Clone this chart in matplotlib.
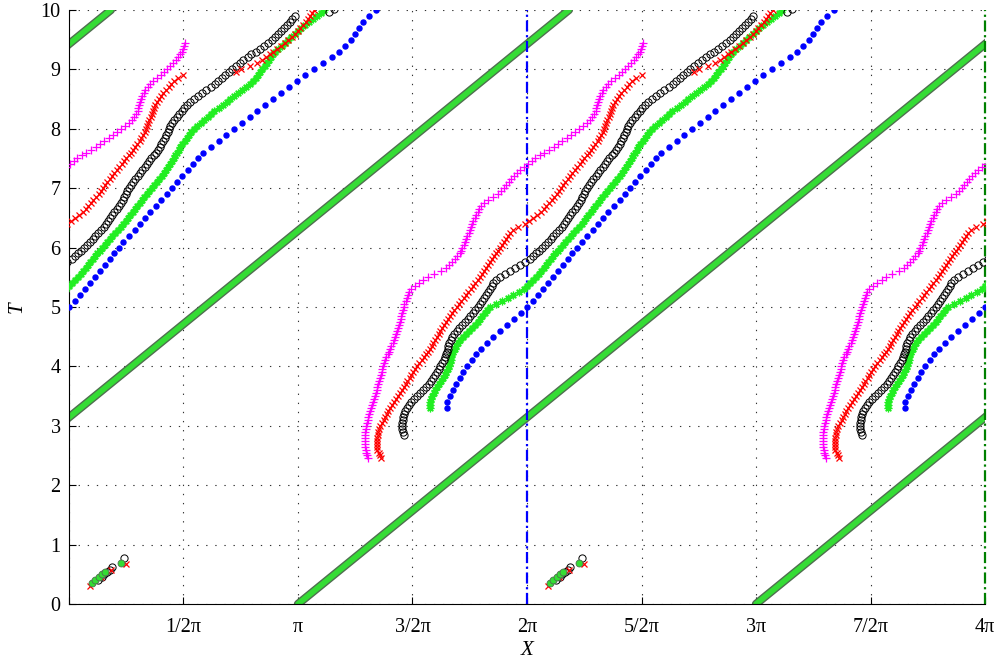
import matplotlib
matplotlib.use('Agg')
import matplotlib.pyplot as plt
import numpy as np

plt.rcParams['font.family'] = ['Liberation Serif', 'DejaVu Serif']

PI = np.pi

# x positions of the tracked points (units of pi), one every dt in T
magenta_t0, magenta_dt = 2.45, 0.05
magenta_x = [1.306, 1.300, 1.297, 1.295, 1.293, 1.292, 1.292, 1.292, 1.293, 1.294,
             1.296, 1.298, 1.301, 1.304, 1.307, 1.311, 1.315, 1.319, 1.323, 1.327,
             1.331, 1.335, 1.339, 1.343, 1.346, 1.350, 1.354, 1.358, 1.362, 1.366,
             1.369, 1.372, 1.376, 1.381, 1.386, 1.392, 1.397, 1.403, 1.408, 1.413,
             1.418, 1.422, 1.427, 1.431, 1.436, 1.440, 1.444, 1.448, 1.451, 1.454,
             1.457, 1.461, 1.465, 1.470, 1.475, 1.480, 1.486, 1.495, 1.510, 1.530,
             1.548, 1.568, 1.595, 1.625, 1.645, 1.660, 1.673, 1.685, 1.696, 1.706,
             1.712, 1.718, 1.724, 1.729, 1.735, 1.740, 1.745, 1.750, 1.754, 1.759,
             1.765, 1.772, 1.778, 1.785, 1.792, 1.800, 1.813, 1.830, 1.851, 1.872,
             1.887, 1.900, 1.910, 1.920, 1.931, 1.942, 1.956, 1.970, 1.986, 2.003,
             2.020, 2.037, 2.056, 2.075, 2.097, 2.118, 2.137, 2.155, 2.174, 2.192,
             2.210, 2.228, 2.246, 2.262, 2.275, 2.285, 2.293, 2.300, 2.303, 2.306,
             2.310, 2.315, 2.320, 2.326, 2.334, 2.343, 2.355, 2.368, 2.384, 2.400,
             2.415, 2.430, 2.443, 2.456, 2.467, 2.478, 2.486, 2.494, 2.499, 2.504,
             2.507]

red_t0, red_dt = 2.45, 0.05
red_x = [1.364, 1.360, 1.353, 1.347, 1.345, 1.345, 1.346, 1.347, 1.348, 1.350,
         1.354, 1.360, 1.367, 1.374, 1.380, 1.387, 1.394, 1.402, 1.410, 1.419,
         1.427, 1.436, 1.444, 1.453, 1.461, 1.470, 1.478, 1.487, 1.495, 1.504,
         1.512, 1.521, 1.530, 1.540, 1.549, 1.558, 1.566, 1.575, 1.583, 1.591,
         1.599, 1.607, 1.614, 1.622, 1.630, 1.638, 1.646, 1.655, 1.664, 1.674,
         1.683, 1.693, 1.703, 1.713, 1.723, 1.734, 1.744, 1.755, 1.765, 1.775,
         1.784, 1.794, 1.803, 1.812, 1.821, 1.830, 1.840, 1.849, 1.857, 1.865,
         1.872, 1.880, 1.889, 1.898, 1.907, 1.917, 1.927, 1.940, 1.962, 1.990,
         2.010, 2.028, 2.045, 2.060, 2.073, 2.085, 2.096, 2.107, 2.119, 2.130,
         2.140, 2.150, 2.159, 2.168, 2.178, 2.188, 2.198, 2.208, 2.219, 2.230,
         2.240, 2.250, 2.260, 2.270, 2.280, 2.290, 2.299, 2.308, 2.316, 2.323,
         2.330, 2.336, 2.341, 2.346, 2.351, 2.356, 2.361, 2.366, 2.371, 2.376,
         2.384, 2.392, 2.402, 2.412, 2.423, 2.435, 2.447, 2.460, 2.478, 2.500]

red2_t0, red2_dt = 8.95, 0.05
red2_x = [2.730, 2.750, 2.790, 2.822, 2.844, 2.862, 2.877, 2.892, 2.908, 2.925,
          2.942, 2.958, 2.972, 2.985, 2.998, 3.010, 3.022, 3.033, 3.043, 3.053,
          3.063, 3.072]

black_t0, black_dt = 2.85, 0.05
black_x = [1.464, 1.460, 1.456, 1.455, 1.455, 1.457, 1.459, 1.462, 1.468, 1.475,
           1.483, 1.493, 1.506, 1.520, 1.533, 1.546, 1.558, 1.570, 1.580, 1.590,
           1.599, 1.608, 1.615, 1.622, 1.629, 1.636, 1.641, 1.646, 1.650, 1.654,
           1.657, 1.661, 1.666, 1.672, 1.682, 1.693, 1.705, 1.717, 1.729, 1.741,
           1.753, 1.764, 1.775, 1.785, 1.795, 1.805, 1.814, 1.822, 1.830, 1.838,
           1.845, 1.852, 1.864, 1.880, 1.902, 1.925, 1.948, 1.970, 1.992, 2.012,
           2.027, 2.040, 2.054, 2.067, 2.080, 2.092, 2.104, 2.115, 2.128, 2.140,
           2.152, 2.163, 2.172, 2.180, 2.189, 2.198, 2.208, 2.218, 2.226, 2.234,
           2.241, 2.248, 2.254, 2.260, 2.270, 2.280, 2.290, 2.300, 2.310, 2.320,
           2.330, 2.340, 2.350, 2.360, 2.370, 2.380, 2.389, 2.397, 2.404, 2.411,
           2.418, 2.424, 2.431, 2.437, 2.443, 2.450, 2.460, 2.470, 2.481, 2.492,
           2.503, 2.515, 2.530, 2.545, 2.562, 2.580, 2.600, 2.620, 2.636, 2.652,
           2.668, 2.683, 2.698, 2.713, 2.729, 2.745, 2.762, 2.780, 2.797, 2.815,
           2.832, 2.850, 2.867, 2.885, 2.899, 2.912, 2.926, 2.940, 2.952, 2.964,
           2.976, 2.988]
black_extra_t = [9.97, 10.02]
black_extra_x = [3.135, 3.157]

green_t0, green_dt = 3.30, 0.05
green_x = [1.576, 1.576, 1.578, 1.581, 1.586, 1.592, 1.600, 1.608, 1.616, 1.624,
           1.633, 1.641, 1.648, 1.655, 1.660, 1.664, 1.667, 1.670, 1.674, 1.678,
           1.684, 1.691, 1.700, 1.709, 1.720, 1.733, 1.746, 1.759, 1.772, 1.784,
           1.795, 1.805, 1.815, 1.826, 1.840, 1.864, 1.890, 1.915, 1.940, 1.963,
           1.985, 2.001, 2.015, 2.028, 2.040, 2.051, 2.062, 2.073, 2.083, 2.093,
           2.103, 2.113, 2.123, 2.134, 2.145, 2.156, 2.167, 2.178, 2.190, 2.202,
           2.215, 2.227, 2.238, 2.248, 2.258, 2.268, 2.278, 2.288, 2.298, 2.308,
           2.318, 2.329, 2.340, 2.351, 2.362, 2.373, 2.384, 2.395, 2.405, 2.415,
           2.425, 2.434, 2.443, 2.451, 2.458, 2.465, 2.472, 2.479, 2.486, 2.495,
           2.505, 2.514, 2.523, 2.533, 2.545, 2.559, 2.575, 2.591, 2.608, 2.621,
           2.635, 2.653, 2.672, 2.688, 2.705, 2.722, 2.740, 2.757, 2.775, 2.791,
           2.805, 2.816, 2.826, 2.836, 2.845, 2.855, 2.864, 2.872, 2.880, 2.889,
           2.900, 2.914, 2.930, 2.942, 2.955, 2.970, 2.985, 3.000, 3.015, 3.032,
           3.050, 3.067, 3.085, 3.099, 3.112]

blue_t0, blue_dt = 3.3, 0.1
blue_x = [1.652, 1.650, 1.662, 1.677, 1.691, 1.706, 1.722, 1.740, 1.758, 1.779,
          1.801, 1.825, 1.852, 1.882, 1.913, 1.944, 1.972, 2.000, 2.027, 2.050,
          2.070, 2.090, 2.112, 2.134, 2.156, 2.178, 2.198, 2.218, 2.238, 2.262,
          2.290, 2.310, 2.330, 2.355, 2.380, 2.404, 2.427, 2.450, 2.473, 2.495,
          2.518, 2.540, 2.562, 2.585, 2.618, 2.655, 2.685, 2.720, 2.757, 2.790,
          2.822, 2.855, 2.890, 2.925, 2.960, 2.995, 3.030, 3.070, 3.110, 3.150,
          3.180, 3.205, 3.230, 3.250, 3.268, 3.285, 3.310, 3.340]

# short early tracks near T = 0.5
black_early_t = [0.40, 0.45, 0.50, 0.54, 0.58, 0.62, 0.77]
black_early_x = [2.125, 2.144, 2.155, 2.166, 2.177, 2.188, 2.240]
green_early_t = [0.35, 0.40, 0.45, 0.50, 0.54, 0.69]
green_early_x = [2.100, 2.115, 2.130, 2.145, 2.157, 2.227]
red_early_t = [0.30, 0.45, 0.58, 0.67]
red_early_x = [2.092, 2.140, 2.185, 2.249]

# characteristic lines T = X - x0 (x0 in units of pi)
line_x0 = [-3, -1, 1, 3]

xtick_pos = [0, 0.5, 1, 1.5, 2, 2.5, 3, 3.5, 4]
xtick_labels = ['', '1/2π', 'π', '3/2π', '2π', '5/2π', '3π', '7/2π', '4π']
ytick_pos = list(range(11))

fig = plt.figure(figsize=(10.04, 6.66), dpi=100)
ax = fig.add_axes([0.0687, 0.0931, 0.9124, 0.892])


def t_grid(t0, dt, xs):
    return t0 + dt * np.arange(len(xs))


def wrapped(t, xs, **kw):
    # the domain is periodic in X with period 2*pi
    for shift in (-2, 0, 2):
        ax.plot((np.asarray(xs) + shift) * PI, t, linestyle='none', **kw)


# green characteristic lines
for x0 in line_x0:
    ax.plot([x0 * PI, x0 * PI + 10], [0, 10], color='#4f6f4f', lw=6,
            solid_capstyle='round', zorder=2)
    ax.plot([x0 * PI, x0 * PI + 10], [0, 10], color='#35dc35', lw=4,
            solid_capstyle='round', zorder=2.1)

# vertical reference lines
ax.plot([2 * PI, 2 * PI], [0, 10], color='#0000ff', lw=1.6,
        ls=(0, (5, 1.6, 1, 1.6)), zorder=2.5)
ax.plot([4 * PI, 4 * PI], [0, 10], color='#008000', lw=1.6,
        ls=(0, (5, 1.6, 1, 1.6)), zorder=2.5, clip_on=False)

blue_kw = dict(marker='o', ms=3.6, color='#0000ff', mec='#0000ff', zorder=3)
green_kw = dict(marker=(8, 2, 0), ms=5.5, color='#00ee00', mec='#22ee22', mew=0.9, zorder=3.1)
black_kw = dict(marker='o', ms=5.2, mfc='none', mec='black', mew=0.7, zorder=3.2)
red_kw = dict(marker='x', ms=4.5, mec='#ff0000', mew=0.9, zorder=3.3)
mag_kw = dict(marker='+', ms=6, mec='#ff00ff', mew=0.9, zorder=3.4)

wrapped(t_grid(blue_t0, blue_dt, blue_x), blue_x, **blue_kw)
wrapped(t_grid(green_t0, green_dt, green_x), green_x, **green_kw)
wrapped(t_grid(black_t0, black_dt, black_x), black_x, **black_kw)
wrapped(black_extra_t, black_extra_x, **black_kw)
wrapped(t_grid(red_t0, red_dt, red_x), red_x, **red_kw)
wrapped(t_grid(red2_t0, red2_dt, red2_x), red2_x, **red_kw)
wrapped(t_grid(magenta_t0, magenta_dt, magenta_x), magenta_x, **mag_kw)

wrapped(black_early_t, black_early_x, **black_kw)
wrapped(red_early_t, red_early_x, **red_kw)
wrapped(green_early_t, green_early_x, marker='o', ms=5, mfc='#33dd33',
        mec='#4f6f4f', mew=0.6, zorder=3.5)

ax.set_xlim(0, 4 * PI)
ax.set_ylim(0, 10)
ax.set_xticks([p * PI for p in xtick_pos])
ax.set_xticklabels(xtick_labels)
ax.set_yticks(ytick_pos)
ax.tick_params(direction='in', length=5, width=0.8, labelsize=14.5,
               top=False, right=False, pad=10)
ax.tick_params(axis='y', pad=6)
ax.grid(True, color='#333333', lw=0.8, ls=(0, (1.2, 7)))
ax.spines['top'].set_visible(False)
ax.spines['right'].set_visible(False)
ax.set_xlabel('X', fontsize=15, fontstyle='italic', labelpad=3)
ax.set_ylabel('T', fontsize=15, fontstyle='italic', labelpad=10)

fig.savefig('out.png', dpi=100, facecolor='white')
print("DONE: out.png")
